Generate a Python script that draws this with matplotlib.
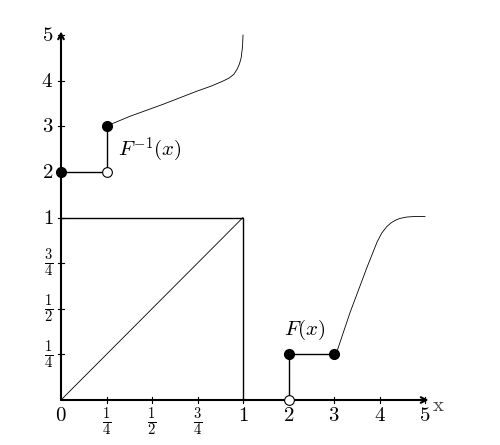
"""
Distribution function F and its generalized inverse
"""

import numpy as np
import matplotlib
matplotlib.use('Agg')
import matplotlib.pyplot as plt

plt.rcParams['mathtext.fontset'] = 'cm'

# tick positions (axis units) and labels
tick_pos = [0, 1, 2, 3, 4, 5, 6, 7, 8]
xtick_labels = [r'$0$', r'$\frac{1}{4}$', r'$\frac{1}{2}$', r'$\frac{3}{4}$', r'$1$',
                r'$2$', r'$3$', r'$4$', r'$5$']
ytick_labels = xtick_labels

# F(x): step part and smooth part
F_step_x = [5, 5, 6]
F_step_y = [0, 1, 1]
F_curve_x = [6.04, 6.35, 6.73, 6.95, 7.05, 7.16, 7.25, 7.35, 7.45, 7.6, 7.74, 8.0]
F_curve_y = [0.99, 1.91, 2.92, 3.47, 3.66, 3.80, 3.88, 3.94, 3.98, 4.01, 4.02, 4.02]

# F^{-1}(x)
Finv_step_x = [0, 1, 1]
Finv_step_y = [5, 5, 6]
Finv_curve_x = [0.99, 1.52, 2.24, 2.99, 3.3, 3.56, 3.7, 3.8, 3.87, 3.92, 3.96, 3.99, 4.0]
Finv_curve_y = [6.0, 6.22, 6.48, 6.77, 6.88, 6.99, 7.06, 7.14, 7.25, 7.36, 7.5, 7.75, 8.0]

# filled / open end points
F_filled = ([5, 6], [1, 1])
F_open = ([5], [0])
Finv_filled = ([0, 1], [5, 6])
Finv_open = ([1], [5])

fig = plt.figure(figsize=(5.0, 4.45), dpi=100)
ax = fig.add_axes([61 / 500, 45 / 445, 364 / 500, 365 / 445])
ax.set_xlim(0, 8)
ax.set_ylim(0, 8)
for s in ax.spines.values():
    s.set_visible(False)
ax.set_xticks([])
ax.set_yticks([])

# axes with arrows
ax.annotate('', xy=(8.08, 0), xytext=(0, 0), annotation_clip=False,
            arrowprops=dict(arrowstyle='->', lw=1.5, color='black',
                            shrinkA=0, shrinkB=0))
ax.annotate('', xy=(0, 8.08), xytext=(0, 0), annotation_clip=False,
            arrowprops=dict(arrowstyle='->', lw=1.5, color='black',
                            shrinkA=0, shrinkB=0))
ax.text(8.15, -0.12, r'$\mathrm{x}$', fontsize=15, ha='left', va='center', color='#444444')

# ticks and labels
for p, lab in zip(tick_pos, xtick_labels):
    if p > 0:
        ax.plot([p, p], [-0.06, 0.06], color='black', lw=0.8, clip_on=False)
    ax.text(p, -0.12, lab, fontsize=15, ha='center', va='top')
for p, lab in zip(tick_pos, ytick_labels):
    if p > 0:
        ax.plot([-0.06, 0.06], [p, p], color='black', lw=0.8, clip_on=False)
        ax.text(-0.17, p, lab, fontsize=15, ha='right', va='center')

# unit square and diagonal
ax.plot([0, 4, 4], [4, 4, 0], color='black', lw=1.0, clip_on=False)
ax.plot([0, 4], [0, 4], color='black', lw=0.6)

# F
ax.plot(F_step_x, F_step_y, color='black', lw=1.0, clip_on=False)
ax.plot(F_curve_x, F_curve_y, color='black', lw=0.6, clip_on=False)
ax.plot(*F_filled, 'o', color='black', ms=7, clip_on=False, zorder=5)
ax.plot(*F_open, 'o', mfc='white', mec='black', mew=0.8, ms=7, clip_on=False, zorder=5)
ax.text(5.36, 1.54, r'$F(x)$', fontsize=15, ha='center', va='center')

# F^{-1}
ax.plot(Finv_step_x, Finv_step_y, color='black', lw=1.0, clip_on=False)
ax.plot(Finv_curve_x, Finv_curve_y, color='black', lw=0.6, clip_on=False)
ax.plot(*Finv_filled, 'o', color='black', ms=7, clip_on=False, zorder=5)
ax.plot(*Finv_open, 'o', mfc='white', mec='black', mew=0.8, ms=7, clip_on=False, zorder=5)
ax.text(1.96, 5.49, r'$F^{-1}(x)$', fontsize=15, ha='center', va='center')

plt.savefig('out.png', dpi=100)
